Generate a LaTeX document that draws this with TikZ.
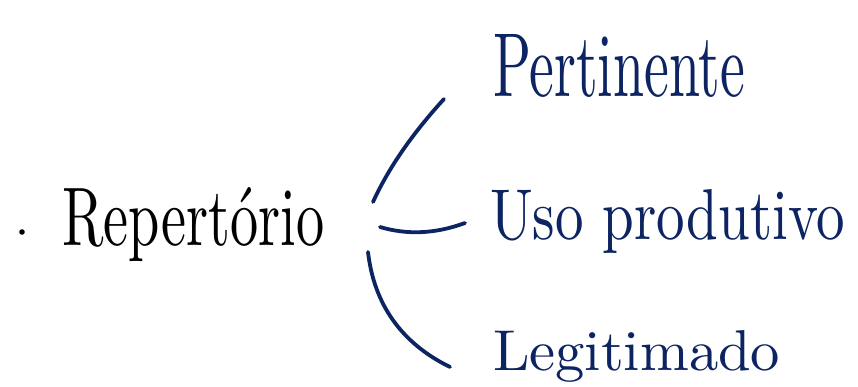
\documentclass[tikz,border=0pt]{standalone}
\usepackage{fontspec}
\usepackage{graphicx}
\definecolor{ink}{RGB}{12,36,97}
\begin{document}
\begin{tikzpicture}[x=1pt,y=-1pt,
  word/.style={inner sep=0pt,outer sep=0pt,anchor=base west},
  stroke/.style={draw=ink,line width=3.8pt,line cap=round}]
\useasboundingbox (0,0) rectangle (858,387);
\fill[black] (22,232) circle (2.8) coordinate (dot);
\node[word,black] (rep) at (62,245) {\resizebox{262pt}{58pt}{Repertório}};
\node[word,ink] (pert) at (493,97) {\resizebox{252pt}{62pt}{Pertinente}};
\node[word,ink] (uso) at (490,240) {\resizebox{355pt}{50pt}{Uso produtivo}};
\node[word,ink] (leg) at (493,370) {\resizebox{287pt}{40pt}{Legitimado}};
\coordinate (a1) at (373,202); \coordinate (b1) at (444,99);
\coordinate (a2) at (380,227); \coordinate (b2) at (465,223);
\coordinate (a3) at (368,252); \coordinate (b3) at (450,367);
\draw[stroke] (a1) .. controls (389,167) and (413,133) .. (b1);
\draw[stroke] (a2) .. controls (407,235) and (435,234) .. (b2);
\draw[stroke] (a3) .. controls (374,304) and (401,343) .. (b3);
\end{tikzpicture}
\end{document}
